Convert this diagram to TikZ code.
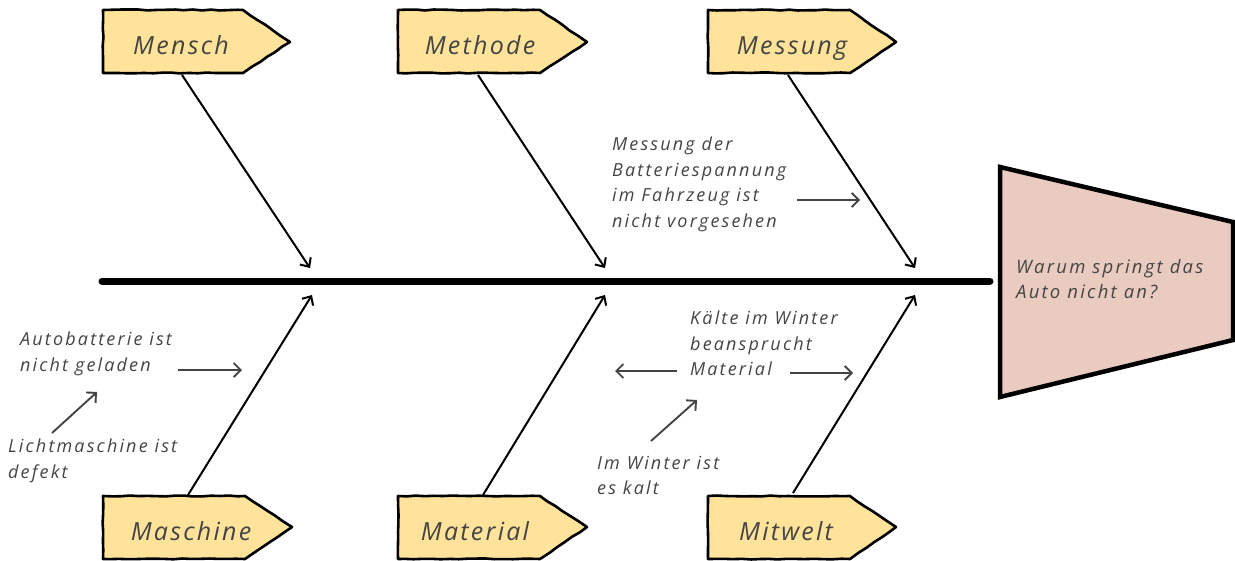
\documentclass[tikz,border=0pt]{standalone}
\usepackage{fontspec}
\setmainfont{Open Sans}
\newfontfamily\handfont{Open Sans}[LetterSpace=12]
\newfontfamily\labelfont{Open Sans}[LetterSpace=9]
\usetikzlibrary{arrows.meta,decorations.pathmorphing}
\definecolor{catfill}{HTML}{FFE39A}
\definecolor{headfill}{HTML}{EACBC0}
\definecolor{inkgray}{HTML}{444444}
\tikzset{
  catshape/.style={draw=black,line width=2.6pt,fill=catfill,line join=round,
    decorate,decoration={random steps,segment length=9pt,amplitude=0.5pt}},
  catlabel/.style={font=\labelfont\fontsize{25}{28}\selectfont\itshape,text=inkgray,inner sep=0pt,anchor=base},
  note/.style={font=\handfont\fontsize{18}{25.5}\selectfont\itshape,text=inkgray,align=left,anchor=north west,inner sep=0pt},
  branch/.style={line width=2pt,draw=black,-{Straight Barb[length=7pt,width=13pt,line width=2pt]}},
  notearrow/.style={line width=1.9pt,draw=inkgray,-{Straight Barb[length=7pt,width=14pt,line width=1.9pt]}},
  spine/.style={line width=7pt,draw=black,line cap=round},
}
\begin{document}
\begin{tikzpicture}[x=1pt,y=-1pt]
\useasboundingbox (0,0) rectangle (1235,560);

% spine and head
\draw[spine] (102,281) coordinate (spinestart) -- (990,281) coordinate (spineend);
\draw[line width=4.5pt,fill=headfill,line join=miter] (1000,167) -- (1233,222) -- (1233,340) -- (1000,397) -- cycle;
\node[note,font=\handfont\fontsize{18.5}{25}\selectfont\itshape] (question) at (1016,259) {Warum springt das\\Auto nicht an?};

% category boxes, top row
\path[catshape] (103,10) -- (243,10) -- (290,42) -- (243,73) -- (103,73) -- cycle;
\node[catlabel] (mensch) at (181,54) {Mensch};
\path[catshape] (398,10) -- (540,10) -- (587,42) -- (540,73) -- (398,73) -- cycle;
\node[catlabel] (methode) at (480,54) {Methode};
\path[catshape] (708,10) -- (850,10) -- (896,42) -- (850,73) -- (708,73) -- cycle;
\node[catlabel] (messung) at (792,54) {Messung};

% category boxes, bottom row
\path[catshape] (103,496) -- (245,496) -- (292,527) -- (245,559) -- (103,559) -- cycle;
\node[catlabel] (maschine) at (191,540) {Maschine};
\path[catshape] (398,496) -- (540,496) -- (587,527) -- (540,559) -- (398,559) -- cycle;
\node[catlabel] (material) at (475,540) {Material};
\path[catshape] (708,496) -- (850,496) -- (896,527) -- (850,559) -- (708,559) -- cycle;
\node[catlabel] (mitwelt) at (786,540) {Mitwelt};

% branch feet and tips
\coordinate (menschfoot) at (182,75);   \coordinate (menschtip) at (310,268);
\coordinate (methodefoot) at (478,75);  \coordinate (methodetip) at (605,268);
\coordinate (messungfoot) at (788,75);  \coordinate (messungtip) at (915,268);
\coordinate (maschinefoot) at (188,495); \coordinate (maschinetip) at (312,295);
\coordinate (materialfoot) at (483,495); \coordinate (materialtip) at (605,295);
\coordinate (mitweltfoot) at (793,493);  \coordinate (mitwelttip) at (915,295);

\draw[branch] (menschfoot) -- (menschtip);
\draw[branch] (methodefoot) -- (methodetip);
\draw[branch] (messungfoot) -- (messungtip);
\draw[branch] (maschinefoot) -- (maschinetip);
\draw[branch] (materialfoot) -- (materialtip);
\draw[branch] (mitweltfoot) -- (mitwelttip);

% causes
\node[note] (spannung) at (612,137) {Messung der\\Batteriespannung\\im Fahrzeug ist\\nicht vorgesehen};
\coordinate (spannungto) at (860,200);
\draw[notearrow] (797,200) -- (spannungto);

\node[note] (batterie) at (20,332) {Autobatterie ist\\nicht geladen};
\coordinate (batterieto) at (242,370);
\draw[notearrow] (178,370) -- (batterieto);

\node[note] (licht) at (8,439) {Lichtmaschine ist\\defekt};
\draw[notearrow] (52,433) -- (97,392);

\node[note] (kaelte) at (690,311) {Kälte im Winter\\beansprucht\\Material};
\draw[notearrow] (677,371) -- (615,371);
\draw[notearrow] (790,373) -- (853,373);

\node[note] (winter) at (597,456) {Im Winter ist\\es kalt};
\draw[notearrow] (651,441) -- (697,400);
\end{tikzpicture}
\end{document}
